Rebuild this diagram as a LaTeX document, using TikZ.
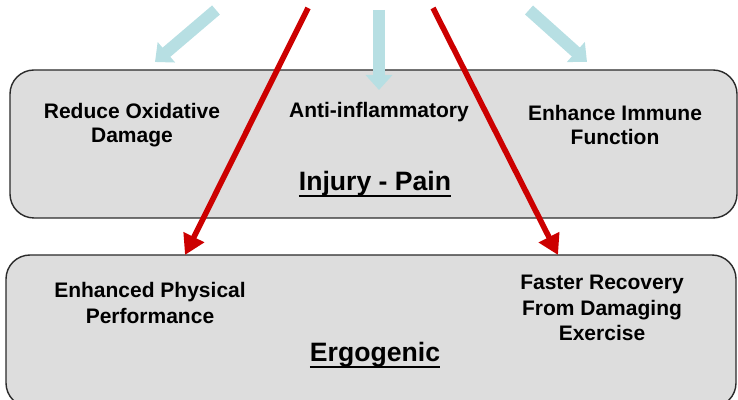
\documentclass[tikz,border=0pt]{standalone}
\usepackage{fontspec}
\setmainfont{Liberation Sans}
\usetikzlibrary{arrows.meta, positioning}
\definecolor{panelgray}{HTML}{DDDDDD}
\definecolor{edgegray}{HTML}{2A2A2A}
\definecolor{paleblue}{HTML}{B7DFE3}
\definecolor{effectred}{HTML}{CC0000}
\newcommand{\headline}[1]{{\setbox0\hbox{#1}%
  \rlap{\vrule height -2.5pt depth 3.3pt width \wd0}\box0}}
\tikzset{
  panel/.style={
    rectangle, rounded corners=12pt, draw=edgegray, fill=panelgray,
    line width=0.7pt, minimum width=#1, inner sep=0pt
  },
  label/.style={
    align=center, font=\fontsize{10.5}{12}\selectfont\bfseries
  },
  title/.style={
    align=center, font=\fontsize{13.3}{15}\selectfont\bfseries
  },
  softarrow/.style={-{Triangle[width=13pt,length=7.5pt]}, line width=6pt, paleblue},
  hardarrow/.style={-{Triangle[width=11pt,length=10pt]}, line width=2.8pt, effectred}
}

\begin{document}
\begin{tikzpicture}[x=0.5pt,y=-0.5pt]
  \useasboundingbox (0,0) rectangle (738,400);
  % panels
  \node[panel=363.5pt, minimum height=74pt] (injury) at (373.5,144) {};
  \node[panel=365pt, minimum height=76pt] (ergo) at (371,331) {};

  % free ends of the arrows
  \coordinate (srcA) at (216,10);  \coordinate (tipA) at (155,62);
  \coordinate (srcB) at (379,10);  \coordinate (tipB) at (379,90);
  \coordinate (srcC) at (529,10);  \coordinate (tipC) at (587,62);
  \coordinate (srcL) at (308,8);   \coordinate (tipL) at (185,255);
  \coordinate (srcR) at (433,8);   \coordinate (tipR) at (558,255);

  \foreach \a in {A,B,C}{%
    \draw[softarrow] (src\a) -- (tip\a);}
  \foreach \a in {L,R}{%
    \draw[hardarrow] (src\a) -- (tip\a);}

  % injury - pain
  \node[label] (oxid) at (132,125) {Reduce Oxidative\\Damage};
  \node[label] (antiinf) at (379,112) {Anti-inflammatory};
  \node[label] (immune) at (615,125) {Enhance Immune\\Function};
  \node[title] (injtitle) at (375,184) {\headline{Injury - Pain}};

  % ergogenic
  \node[label, font=\fontsize{10.5}{13}\selectfont\bfseries] (physical) at (150,303)
    {Enhanced Physical\\Performance};
  \node[label, font=\fontsize{10.5}{12.6}\selectfont\bfseries] (recovery) at (602,308)
    {Faster Recovery\\From Damaging\\Exercise};
  \node[title] (ergtitle) at (375,355) {\headline{Ergogenic}};
\end{tikzpicture}
\end{document}
